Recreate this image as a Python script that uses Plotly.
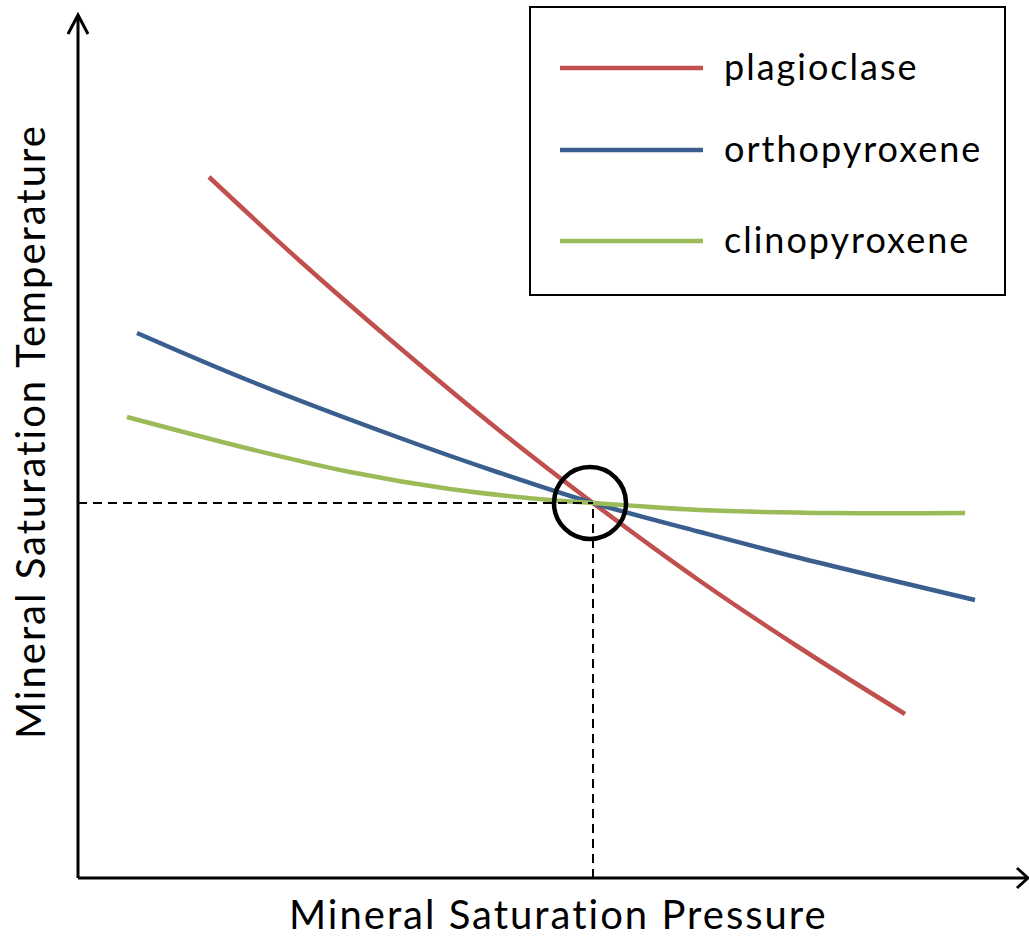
import plotly.graph_objects as go

# Schematic saturation curves (arbitrary pressure / temperature units)
minerals = ["plagioclase", "orthopyroxene", "clinopyroxene"]
colors = ["#c0504d", "#3a5f8f", "#9bbb59"]

plag_p = [1.31, 2.22, 3.22, 4.22, 5.15, 6.22, 7.22, 8.27]
plag_t = [7.01, 6.17, 5.30, 4.47, 3.75, 2.97, 2.30, 1.64]

opx_p = [0.59, 1.72, 3.22, 4.22, 5.15, 6.22, 7.22, 8.97]
opx_t = [5.45, 4.97, 4.40, 4.05, 3.75, 3.46, 3.20, 2.78]

cpx_p = [0.49, 1.72, 2.72, 3.72, 4.72, 5.15, 6.22, 7.55, 8.87]
cpx_t = [4.61, 4.29, 4.06, 3.89, 3.78, 3.75, 3.68, 3.65, 3.65]

# Point where all three phases are co-saturated
sat_p = 5.15
sat_t = 3.75

W, H = 1029, 939
FONT = "Lato"

fig = go.Figure()
for name, color, p, t in zip(minerals, colors,
                             [plag_p, opx_p, cpx_p], [plag_t, opx_t, cpx_t]):
    fig.add_trace(go.Scatter(x=p, y=t, mode="lines", name=name,
                             line=dict(color=color, width=4.5, shape="spline", smoothing=1.0),
                             showlegend=False, hoverinfo="skip"))


def px(x):
    return x / W


def py(y):
    return 1 - y / H


def spaced(text, spacing):
    return f'<span style="letter-spacing:{spacing}px">{text}</span>'


shapes = []
# axes with open arrowheads
axis_line = dict(color="black", width=3)
shapes.append(dict(type="line", xref="x", yref="y", x0=0, y0=0, x1=0, y1=8.62, line=axis_line))
shapes.append(dict(type="line", xref="x", yref="y", x0=0, y0=0, x1=9.49, y1=0, line=axis_line))
shapes.append(dict(type="path", xref="x", yref="y",
                   path="M -0.10,8.44 L 0,8.63 L 0.10,8.44", line=axis_line))
shapes.append(dict(type="path", xref="x", yref="y",
                   path="M 9.39,0.10 L 9.50,0 L 9.39,-0.10", line=axis_line))

# guide lines to the co-saturation point
dash = dict(color="black", width=2, dash="9px,6px")
shapes.append(dict(type="line", xref="x", yref="y", x0=0, y0=sat_t, x1=sat_p, y1=sat_t, line=dash))
shapes.append(dict(type="line", xref="x", yref="y", x0=sat_p, y0=0, x1=sat_p, y1=sat_t, line=dash))

# circle marking the point
r = 0.36
shapes.append(dict(type="circle", xref="x", yref="y",
                   x0=sat_p - 0.03 - r, x1=sat_p - 0.03 + r,
                   y0=sat_t - r, y1=sat_t + r,
                   line=dict(color="black", width=4.5)))

# legend box
shapes.append(dict(type="rect", xref="paper", yref="paper",
                   x0=px(530), x1=px(1005), y0=py(295), y1=py(7),
                   line=dict(color="black", width=2), fillcolor="white"))

annotations = []
legend_rows = [68, 150, 241]
for name, color, yrow in zip(minerals, colors, legend_rows):
    shapes.append(dict(type="line", xref="paper", yref="paper",
                       x0=px(560), x1=px(703), y0=py(yrow), y1=py(yrow),
                       line=dict(color=color, width=4.5)))
    annotations.append(dict(text=spaced(name, 2), xref="paper", yref="paper",
                            x=px(722), y=py(yrow - 2), xanchor="left", yanchor="middle",
                            showarrow=False, font=dict(family=FONT, size=36, color="black")))

annotations.append(dict(text=spaced("Mineral Saturation Pressure", 2), xref="paper", yref="paper",
                        x=px(558), y=py(914), xanchor="center", yanchor="middle",
                        showarrow=False, font=dict(family=FONT, size=40, color="black")))
annotations.append(dict(text=spaced("Mineral Saturation Temperature", 2), xref="paper", yref="paper",
                        x=px(30), y=py(432), xanchor="center", yanchor="middle", textangle=-90,
                        showarrow=False, font=dict(family=FONT, size=40, color="black")))

fig.update_layout(
    width=W, height=H,
    margin=dict(l=0, r=0, t=0, b=0),
    paper_bgcolor="white", plot_bgcolor="white",
    xaxis=dict(range=[-0.78, 9.51], visible=False, fixedrange=True),
    yaxis=dict(range=[-0.61, 8.78], visible=False, fixedrange=True),
    shapes=shapes, annotations=annotations,
)

fig.write_html("out.html")
